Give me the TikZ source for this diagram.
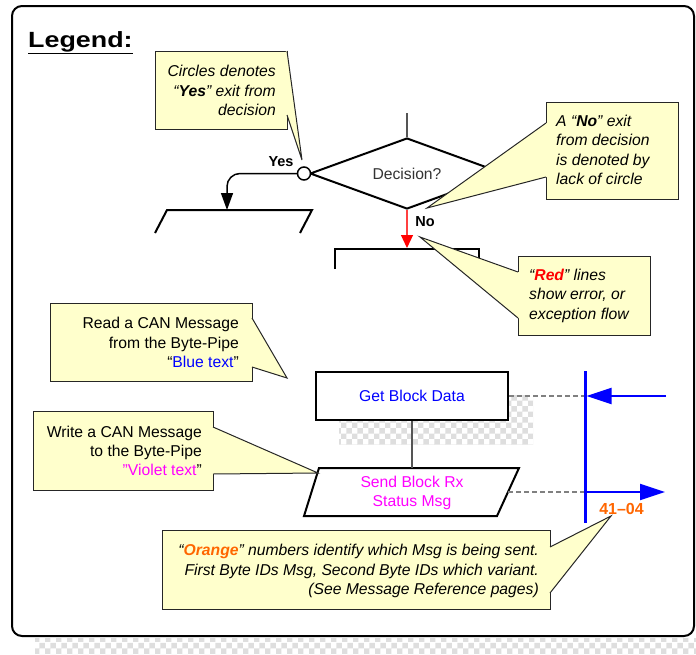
\documentclass[tikz,border=0pt]{standalone}
\usepackage{fontspec}
\setmainfont{Liberation Sans}
\usetikzlibrary{arrows.meta,patterns,calc,shapes.geometric}

\definecolor{noteyellow}{HTML}{FFFFCC}
\definecolor{noteedge}{HTML}{262626}
\definecolor{readblue}{HTML}{0000FF}
\definecolor{writeviolet}{HTML}{FF00FF}
\definecolor{idorange}{HTML}{FF6600}
\definecolor{errorred}{HTML}{FF0000}
\definecolor{flowgray}{HTML}{555555}
\definecolor{decisiontext}{HTML}{333333}

\newcommand{\bodysize}{\fontsize{15.7}{19.3}\selectfont}
\newcommand{\exitsize}{\fontsize{14.5}{17}\selectfont\bfseries}

% yellow note: box is a node, the tail is a filled wedge drawn over its edge
\newcommand{\notetail}[4]{%
  \fill[noteyellow] ($(#1)+(#4)$) -- (#1) -- (#3) -- (#2) -- ($(#2)+(#4)$) -- cycle;
  \draw[draw=noteedge, line width=1pt] (#1) -- (#3) -- (#2);
}

\tikzset{
  frame/.style={line width=2pt, rounded corners=10pt},
  flowline/.style={line width=2pt},
  thinlink/.style={line width=1.3pt, draw=flowgray},
  busline/.style={draw=readblue, line width=3pt},
  busarrow/.style={draw=readblue, line width=2pt, -{Triangle[length=25pt,width=16pt,color=readblue]}},
  dashlink/.style={draw=gray, line width=1.3pt, dash pattern=on 5pt off 3pt},
  notebox/.style 2 args={draw=noteedge, line width=1pt, fill=noteyellow,
    inner sep=0pt, minimum width=#1, minimum height=#2},
  notetext/.style={inner sep=0pt, font=\bodysize},
  notetextit/.style={inner sep=0pt, font=\bodysize\itshape},
  exitlabel/.style={inner sep=0pt, font=\exitsize},
  shadowpatch/.style={pattern=checkerboard, pattern color=black!13},
}

\begin{document}
\begin{tikzpicture}[x=1pt, y=-1pt]
\useasboundingbox (0,0) rectangle (696,654);

% drop shadow under the frame
\fill[shadowpatch] (35,638) rectangle (696,654);
\fill[white] (12,6) rectangle (694,636);
\draw[frame] (12,6) rectangle (694,636);

% title
\node[anchor=base west, inner sep=0pt, xscale=1.22,
      font=\fontsize{22}{26}\selectfont\bfseries] (title) at (28,47) {\underline{Legend:}};

% ---- decision with its two exits ----
\coordinate (decin) at (407,113);
\node[diamond, draw, flowline, aspect=2.7, minimum width=194pt, minimum height=71pt,
      inner sep=0pt, font=\bodysize, text=decisiontext] (dec) at (407,173.5) {Decision?};
\draw[thinlink] (decin) -- (dec.north);

\node[circle, draw, fill=white, line width=1.5pt, minimum size=13pt, inner sep=0pt]
  (yescirc) at (304,173.5) {};
\node[exitlabel] (yeslbl) at (281,162) {Yes};

% target of the "Yes" exit (top of an input/output box)
\coordinate (yesin) at (227,210);
\coordinate (yesbl) at (155,233);
\coordinate (yestl) at (167,210);
\coordinate (yestr) at (312,210);
\coordinate (yesbr) at (300,233);
\draw[flowline] (yesbl) -- (yestl) -- (yestr) -- (yesbr);
\draw[line width=1.5pt, rounded corners=13pt, -{Triangle[length=17pt,width=12pt]}]
  (yescirc.west) -| (yesin);

% target of the "No" exit (top of a process box)
\coordinate (noin) at (407,248);
\coordinate (nobl) at (335,269);
\coordinate (notl) at (335,249);
\coordinate (notr) at (479,249);
\coordinate (nobr) at (479,269);
\draw[flowline] (nobl) -- (notl) -- (notr) -- (nobr);
\draw[draw=errorred!75, line width=1.2pt,
      -{Triangle[length=13pt,width=12pt,color=errorred]}] (dec.south) -- (noin);
\node[exitlabel] (nolbl) at (425,222) {No};

% ---- byte-pipe read / write ----
\fill[shadowpatch] (339,395) rectangle (533,444);
\node[draw, flowline, fill=white, minimum width=192pt, minimum height=48pt, inner sep=0pt,
      font=\bodysize, text=readblue] (getblk) at (412,396) {Get Block Data};

\coordinate (sendtop) at (412,468);
\coordinate (sendeast) at (508,492);
\filldraw[flowline, fill=white] (304,516) -- (319,468) -- (519,468) -- (497,516) -- cycle;
\node[align=center, inner sep=0pt, font=\bodysize, text=writeviolet] (send) at (412,493)
  {Send Block Rx\\Status Msg};
\draw[thinlink] (getblk.south) -- (sendtop);

\coordinate (busin) at (585,396);
\coordinate (busout) at (585,492);
\coordinate (bustop) at (585,371);
\coordinate (busbot) at (585,523);
\coordinate (inext) at (666,396);
\coordinate (outext) at (665,492);
\draw[dashlink] (getblk.east) -- (busin);
\draw[dashlink] (sendeast) -- (busout);
\draw[busline] (bustop) -- (busbot);
\draw[busarrow] (inext) -- ([xshift=1.5pt]busin);
\draw[busarrow] (busout) -- (outext);
\node[anchor=base, inner sep=0pt, font=\fontsize{16}{19}\selectfont\bfseries, text=idorange]
  (msgid) at (621.5,514) {41–04};

% ---- notes ----
\node[notebox={132pt}{78pt}] (yesnote) at (221,90) {};
\notetail{287,51}{287,115}{302,160}{-1.2,0}
\node[notetextit, anchor=east, align=right] (yesnotetext) at (276,90.5)
  {Circles denotes\\“\textbf{Yes}” exit from\\decision};

\node[notebox={132pt}{97pt}] (nonote) at (612,150.5) {};
\notetail{546,123}{546,177}{427,208}{1.2,0}
\node[notetextit, anchor=west, align=left] (nonotetext) at (556,150)
  {A “\textbf{No}” exit\\from decision\\is denoted by\\lack of circle};

\node[notebox={132pt}{79pt}] (rednote) at (584,295.5) {};
\notetail{518,272}{518,318}{420,237}{1.2,0}
\node[notetextit, anchor=west, align=left] (rednotetext) at (529,295.7)
  {“\textcolor{errorred}{\textbf{Red}}” lines\\show error, or\\exception flow};

\node[notebox={202pt}{78pt}] (readnote) at (151,342) {};
\notetail{252,318}{252,367}{287,378}{-1.2,0}
\node[notetext, anchor=east, align=right] (readnotetext) at (239,342.5)
  {Read a CAN Message\\from the Byte-Pipe\\“\textcolor{readblue}{Blue text}”};

\node[notebox={180pt}{79pt}] (writenote) at (123,450.5) {};
\notetail{213,427}{213,474}{318,473}{-1.2,0}
\node[notetext, anchor=east, align=right] (writenotetext) at (202,451)
  {Write a CAN Message\\to the Byte-Pipe\\\textcolor{writeviolet}{”Violet text}”};

\node[notebox={388pt}{79pt}] (idnote) at (356,569.5) {};
\notetail{550,547}{550,593}{611,516}{-1.2,0}
\node[notetextit, anchor=east, align=right] (idnotetext) at (539,571)
  {“\textcolor{idorange}{\textbf{Orange}}” numbers identify which Msg is being sent.\\
   First Byte IDs Msg, Second Byte IDs which variant.\\
   (See Message Reference pages)};
\end{tikzpicture}
\end{document}
